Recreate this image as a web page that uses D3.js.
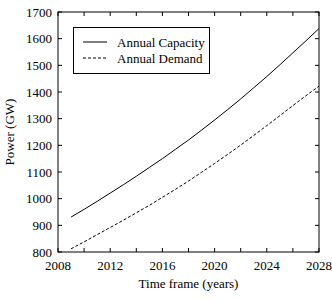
<!DOCTYPE html>
<html><head><meta charset="utf-8">
<script src="https://cdn.jsdelivr.net/npm/d3@7"></script>
<style>
html,body{margin:0;padding:0;background:#fff;}
text{font-family:"Liberation Serif","Times New Roman",serif;fill:#000;}
</style></head>
<body><svg id="c" width="332" height="300"></svg>
<script>
const years = [2009,2010,2011,2012,2013,2014,2015,2016,2017,2018,2019,2020,2021,2022,2023,2024,2025,2026,2027,2028];
const capacity = [931,960,990,1021,1052,1084,1117,1150,1185,1220,1257,1295,1334,1374,1416,1458,1502,1547,1592,1638];
const demand = [812,838,865,892,919,947,975,1005,1035,1066,1099,1132,1166,1201,1237,1274,1311,1349,1386,1422];
const xTicks = [2008,2010,2012,2014,2016,2018,2020,2022,2024,2026,2028];
const xLabels = [2008,2012,2016,2020,2024,2028];
const yTicks = [800,900,1000,1100,1200,1300,1400,1500,1600,1700];
const seriesNames = ["Annual Capacity","Annual Demand"];

const svg = d3.select("#c");
const L=58, R=319, T=12, B=252;
const x = d3.scaleLinear().domain([2008,2028]).range([L,R]);
const y = d3.scaleLinear().domain([800,1700]).range([B,T]);
const tl = 4;

// frame
svg.append("rect").attr("x",L).attr("y",T).attr("width",R-L).attr("height",B-T)
  .attr("fill","none").attr("stroke","#000").attr("stroke-width",1);

// ticks inward
const g = svg.append("g").attr("stroke","#000").attr("stroke-width",1);
xTicks.forEach(t=>{
  g.append("line").attr("x1",x(t)).attr("x2",x(t)).attr("y1",B).attr("y2",B-tl);
  g.append("line").attr("x1",x(t)).attr("x2",x(t)).attr("y1",T).attr("y2",T+tl);
});
yTicks.forEach(t=>{
  g.append("line").attr("x1",L).attr("x2",L+tl).attr("y1",y(t)).attr("y2",y(t));
  g.append("line").attr("x1",R).attr("x2",R-tl).attr("y1",y(t)).attr("y2",y(t));
});

// labels
svg.append("g").selectAll("text").data(xLabels).join("text")
  .attr("x",d=>x(d)).attr("y",270).attr("text-anchor","middle")
  .attr("font-size",13).text(d=>d);
svg.append("g").selectAll("text").data(yTicks).join("text")
  .attr("x",52).attr("y",d=>y(d)+4.5).attr("text-anchor","end")
  .attr("font-size",13).text(d=>d);

svg.append("text").attr("x",(L+R)/2).attr("y",288).attr("text-anchor","middle")
  .attr("font-size",13).text("Time frame (years)");
svg.append("text").attr("transform",`translate(14,${(T+B)/2}) rotate(-90)`)
  .attr("text-anchor","middle").attr("font-size",13).text("Power (GW)");

// lines
const line = d3.line().x((d,i)=>x(years[i])).y(d=>y(d));
svg.append("path").datum(capacity).attr("d",line).attr("fill","none")
  .attr("stroke","#000").attr("stroke-width",1);
svg.append("path").datum(demand).attr("d",line).attr("fill","none")
  .attr("stroke","#000").attr("stroke-width",1).attr("stroke-dasharray","3,2");

// legend
const lg = svg.append("g");
lg.append("rect").attr("x",73.5).attr("y",27.5).attr("width",136).attr("height",46)
  .attr("fill","#fff").attr("stroke","#000").attr("stroke-width",1);
seriesNames.forEach((n,i)=>{
  const yy = 42 + i*16;
  lg.append("line").attr("x1",83).attr("x2",107).attr("y1",yy).attr("y2",yy)
    .attr("stroke","#000").attr("stroke-width",1)
    .attr("stroke-dasharray", i===1 ? "3,2" : null);
  lg.append("text").attr("x",117).attr("y",yy+4.5).attr("font-size",13).text(n);
});
</script></body></html>
